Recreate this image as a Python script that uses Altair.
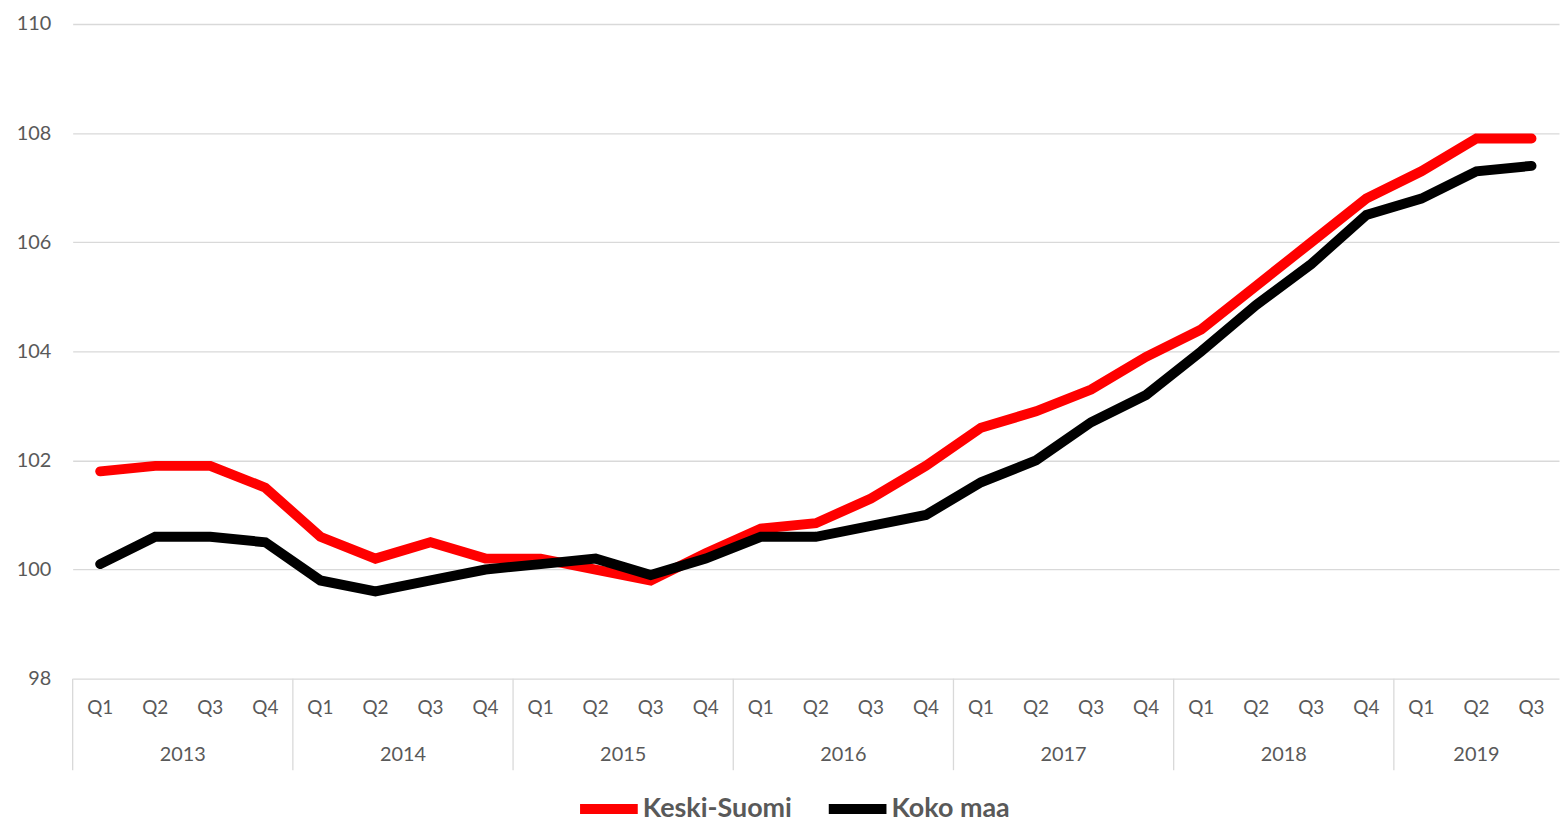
import altair as alt
import pandas as pd

years = ["2013"] * 4 + ["2014"] * 4 + ["2015"] * 4 + ["2016"] * 4 + ["2017"] * 4 + ["2018"] * 4 + ["2019"] * 3
quarters = ["Q1", "Q2", "Q3", "Q4"] * 6 + ["Q1", "Q2", "Q3"]

keski_suomi = [101.8, 101.9, 101.9, 101.5,
               100.6, 100.2, 100.5, 100.2,
               100.2, 100.0, 99.8, 100.3,
               100.75, 100.85, 101.3, 101.9,
               102.6, 102.9, 103.3, 103.9,
               104.4, 105.2, 106.0, 106.8,
               107.3, 107.9, 107.9]
koko_maa = [100.1, 100.6, 100.6, 100.5,
            99.8, 99.6, 99.8, 100.0,
            100.1, 100.2, 99.9, 100.2,
            100.6, 100.6, 100.8, 101.0,
            101.6, 102.0, 102.7, 103.2,
            104.0, 104.85, 105.6, 106.5,
            106.8, 107.3, 107.4]

series_names = ["Keski-Suomi", "Koko maa"]
series_colors = ["#ff0000", "#000000"]

FONT = "Lato"
GRAY = "#595959"
GRID = "#d9d9d9"

n = len(quarters)
rows = []
for i in range(n):
    rows.append({"idx": i, "series": series_names[0], "value": keski_suomi[i]})
    rows.append({"idx": i, "series": series_names[1], "value": koko_maa[i]})
df = pd.DataFrame(rows)

qdf = pd.DataFrame({"idx": list(range(n)), "q": quarters, "year": years})

year_list = []
for y in years:
    if y not in year_list:
        year_list.append(y)
ydf_rows = []
sep = [-0.5]
for y in year_list:
    ids = [i for i in range(n) if years[i] == y]
    ydf_rows.append({"year": y, "mid": (ids[0] + ids[-1]) / 2})
    if y != year_list[-1]:
        sep.append(ids[-1] + 0.5)
ydf = pd.DataFrame(ydf_rows)
sdf = pd.DataFrame({"pos": sep})

W, H = 1494, 658
xscale = alt.Scale(domain=[-0.5, n - 0.5], nice=False, zero=False)

lines = alt.Chart(df).mark_line(strokeWidth=10, strokeCap="round", strokeJoin="miter").encode(
    x=alt.X("idx:Q", scale=xscale, axis=None),
    y=alt.Y("value:Q",
            scale=alt.Scale(domain=[98, 110], nice=False, zero=False),
            axis=alt.Axis(values=[98, 100, 102, 104, 106, 108, 110], title=None,
                          labelFont=FONT, labelFontSize=20, labelColor=GRAY,
                          labelPadding=22, ticks=False, domain=False,
                          grid=True, gridColor=GRID, gridWidth=1.3)),
    color=alt.Color("series:N",
                    scale=alt.Scale(domain=series_names, range=series_colors),
                    legend=alt.Legend(title=None, orient="none", direction="horizontal",
                                      legendX=505, legendY=755,
                                      symbolType="stroke", symbolSize=3364,
                                      symbolStrokeWidth=10, labelFont=FONT,
                                      labelFontSize=27, labelFontWeight="bold",
                                      labelColor=GRAY, labelOffset=0,
                                      columnPadding=17)),
    order=alt.Order("idx:Q"),
)

qtext = alt.Chart(qdf).mark_text(font=FONT, fontSize=19, color=GRAY, baseline="middle").encode(
    x=alt.X("idx:Q", scale=xscale, axis=None),
    y=alt.value(H + 30),
    text="q:N",
)

ytext = alt.Chart(ydf).mark_text(font=FONT, fontSize=20, color=GRAY, baseline="middle").encode(
    x=alt.X("mid:Q", scale=xscale, axis=None),
    y=alt.value(H + 77),
    text="year:N",
)

seps = alt.Chart(sdf).mark_rule(color=GRID, strokeWidth=1.3).encode(
    x=alt.X("pos:Q", scale=xscale, axis=None),
    y=alt.value(H),
    y2=alt.value(H + 92),
)

chart = alt.layer(seps, lines, qtext, ytext).properties(
    width=W, height=H,
    autosize=alt.AutoSizeParams(type="none"),
    padding={"left": 65, "top": 14, "right": 1, "bottom": 145},
    background="white",
).configure_view(stroke=None)

chart.save("out.html", embed_options={"renderer": "svg", "actions": False})
